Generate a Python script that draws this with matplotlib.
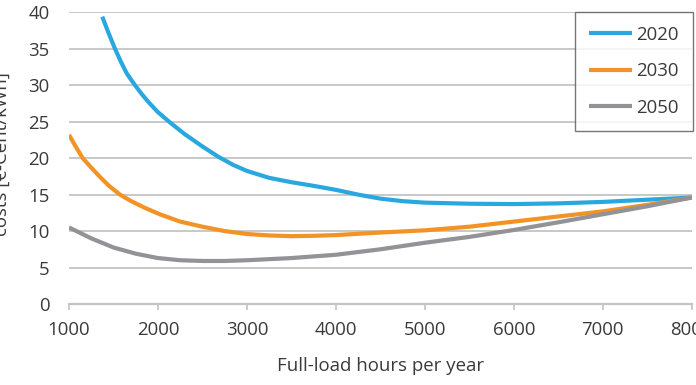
import matplotlib
matplotlib.use("Agg")
import matplotlib.pyplot as plt

# Data
hours_2020 = [1374, 1440, 1517, 1580, 1650, 1742, 1820, 1900, 2000, 2135, 2300, 2500,
              2677, 2850, 3000, 3250, 3500, 3750, 4000, 4250, 4500, 4750, 5000, 5500,
              6000, 6500, 7000, 7500, 8000]
cost_2020 = [39.4, 37.3, 35.0, 33.3, 31.6, 30.0, 28.75, 27.6, 26.3, 24.9, 23.3, 21.6,
             20.2, 19.05, 18.25, 17.3, 16.7, 16.2, 15.65, 15.0, 14.45, 14.1, 13.9, 13.75,
             13.7, 13.8, 14.0, 14.3, 14.6]

hours_2030 = [1000, 1075, 1154, 1250, 1350, 1450, 1573, 1700, 1850, 2022, 2250, 2500,
              2750, 3000, 3250, 3500, 3750, 4000, 4500, 5000, 5500, 6000, 6500, 7000,
              7500, 8000]
cost_2030 = [23.2, 21.6, 20.0, 18.7, 17.4, 16.2, 15.0, 14.1, 13.2, 12.3, 11.3, 10.6,
             10.0, 9.6, 9.4, 9.3, 9.35, 9.45, 9.8, 10.1, 10.6, 11.3, 12.0, 12.7,
             13.6, 14.6]

hours_2050 = [1000, 1250, 1500, 1750, 2000, 2250, 2500, 2750, 3000, 3500, 4000, 4500,
              5000, 5500, 6000, 6500, 7000, 7500, 8000]
cost_2050 = [10.5, 9.0, 7.75, 6.9, 6.3, 6.0, 5.9, 5.9, 6.0, 6.3, 6.75, 7.5,
             8.4, 9.2, 10.15, 11.2, 12.3, 13.4, 14.6]

x_ticks = [1000, 2000, 3000, 4000, 5000, 6000, 7000, 8000]
y_ticks = [0, 5, 10, 15, 20, 25, 30, 35, 40]

plt.rcParams['font.family'] = ['Open Sans', 'DejaVu Sans']
text_color = '#3a3a3a'
grid_color = '#c4c4c4'
fs = 13.4

fig = plt.figure(figsize=(6.96, 3.85), dpi=100)
ax = fig.add_axes([69 / 696, 81 / 385, (691.7 - 69) / 696, (304 - 12.3) / 385])

ax.plot(hours_2020, cost_2020, color='#29a8e0', lw=3, label='2020', solid_capstyle='butt')
ax.plot(hours_2030, cost_2030, color='#f39325', lw=3, label='2030', solid_capstyle='butt')
ax.plot(hours_2050, cost_2050, color='#929297', lw=3, label='2050', solid_capstyle='butt')

ax.set_xlim(1000, 8000)
ax.set_ylim(0, 40)
ax.set_xticks(x_ticks)
ax.set_yticks(y_ticks)

for s in ['left', 'right', 'top']:
    ax.spines[s].set_visible(False)
ax.spines['bottom'].set_color(grid_color)
ax.spines['bottom'].set_linewidth(1.6)
ax.grid(axis='y', color=grid_color, lw=1.3)
ax.set_axisbelow(True)
ax.tick_params(axis='x', length=4, width=1.2, color=grid_color, pad=8,
               labelsize=fs, labelcolor=text_color)
ax.tick_params(axis='y', length=0, pad=14, labelsize=fs, labelcolor=text_color)

ax.set_xlabel('Full-load hours per year', fontsize=fs, color=text_color, labelpad=13)
ax.set_ylabel('costs [€-Cent/kWh]', fontsize=fs, color=text_color)
ax.yaxis.set_label_coords(11 / 696, 0.6, transform=fig.transFigure)

leg = ax.legend(loc='upper right', bbox_to_anchor=(693 / 696, 1 - 11.7 / 385),
                bbox_transform=fig.transFigure, fontsize=fs, frameon=True,
                fancybox=False, edgecolor='#555555', handlelength=2.3,
                handletextpad=0.25, labelspacing=1.0, borderpad=0.75,
                borderaxespad=0)
leg.get_frame().set_linewidth(1.0)
for t in leg.get_texts():
    t.set_color(text_color)

fig.savefig('out.png', dpi=100)
